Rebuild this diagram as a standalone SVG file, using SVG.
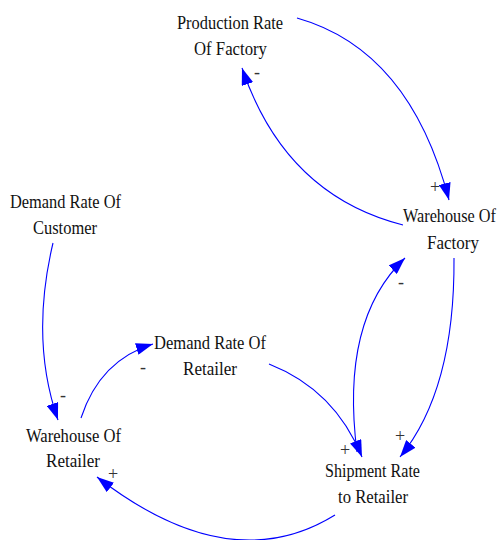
<svg xmlns="http://www.w3.org/2000/svg" width="500" height="540" viewBox="0 0 500 540">
<style>
.c{fill:none;stroke:#0000ff;stroke-width:1.1}
</style>
<defs>
<marker id="ah" markerUnits="userSpaceOnUse" markerWidth="20" markerHeight="12" refX="17" refY="6" orient="auto">
<path d="M0,0 L17,6 L0,12 Z" fill="#0000ff"/>
</marker>
</defs>
<rect width="500" height="540" fill="#fff"/>
<g id="connectors">
<path class="c" marker-end="url(#ah)" d="M297,18 Q410,50 449,200"/>
<path class="c" marker-end="url(#ah)" d="M403,225 Q285,195 242,68"/>
<path class="c" marker-end="url(#ah)" d="M454,258 Q455,390 400,457"/>
<path class="c" marker-end="url(#ah)" d="M357,452 Q340,320 405,258"/>
<path class="c" marker-end="url(#ah)" d="M269,364 Q335,390 362,457"/>
<path class="c" marker-end="url(#ah)" d="M335,515 Q230,580 97,477"/>
<path class="c" marker-end="url(#ah)" d="M53,243 Q30,340 58,420"/>
<path class="c" marker-end="url(#ah)" d="M81,418 Q100,360 153,344"/>
<g font-family="Liberation Serif, Times New Roman, serif" font-size="18" fill="#333">
<text x="254" y="78">-</text>
<text x="430" y="193">+</text>
<text x="395" y="442">+</text>
<text x="398" y="288">-</text>
<text x="340" y="456">+</text>
<text x="108" y="480">+</text>
<text x="60" y="401">-</text>
<text x="140" y="373">-</text>
</g>
</g>
<g font-family="Liberation Serif, Times New Roman, serif" font-size="19" fill="#111">
<g id="production-rate-of-factory">
<text x="177" y="29" textLength="106" lengthAdjust="spacingAndGlyphs">Production Rate</text>
<text x="194" y="55" textLength="73" lengthAdjust="spacingAndGlyphs">Of Factory</text>
</g>
<g id="warehouse-of-factory">
<text transform="translate(403,222) scale(0.86,1)" x="0" y="0" textLength="108" lengthAdjust="spacingAndGlyphs">Warehouse Of</text>
<text x="427" y="249" textLength="52" lengthAdjust="spacingAndGlyphs">Factory</text>
</g>
<g id="demand-rate-of-customer">
<text x="10" y="208" textLength="111" lengthAdjust="spacingAndGlyphs">Demand Rate Of</text>
<text x="33" y="234" textLength="64" lengthAdjust="spacingAndGlyphs">Customer</text>
</g>
<g id="demand-rate-of-retailer">
<text x="154" y="349" textLength="112" lengthAdjust="spacingAndGlyphs">Demand Rate Of</text>
<text x="183" y="375" textLength="54" lengthAdjust="spacingAndGlyphs">Retailer</text>
</g>
<g id="warehouse-of-retailer">
<text x="26" y="442" textLength="95" lengthAdjust="spacingAndGlyphs">Warehouse Of</text>
<text x="46" y="467" textLength="54" lengthAdjust="spacingAndGlyphs">Retailer</text>
</g>
<g id="shipment-rate-to-retailer">
<text x="325" y="477" textLength="95" lengthAdjust="spacingAndGlyphs">Shipment Rate</text>
<text x="338" y="503" textLength="70" lengthAdjust="spacingAndGlyphs">to Retailer</text>
</g>
</g>
</svg>
